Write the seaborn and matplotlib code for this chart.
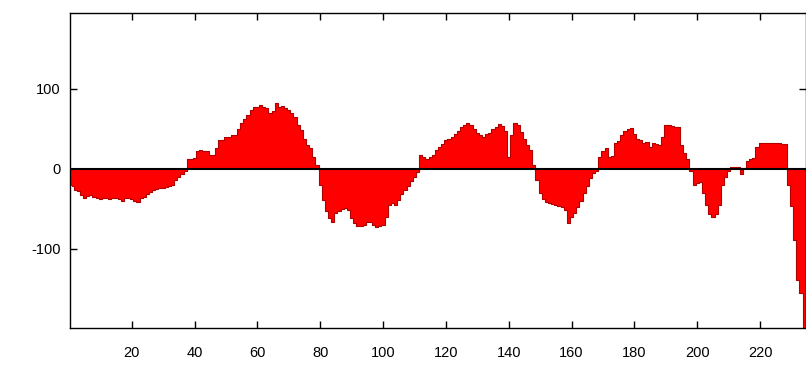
import numpy as np
import pandas as pd
import matplotlib
matplotlib.use("Agg")
import matplotlib.pyplot as plt
import seaborn as sns

positions = list(range(1, 235))
values = [
    -22, -26, -28, -33, -36, -34, -33, -35, -36, -38,
    -37, -36, -38, -37, -36, -38, -40, -37, -36, -38,
    -40, -41, -37, -35, -32, -29, -27, -25, -24, -24,
    -23, -22, -20, -14, -10, -6, -3, 12, 12, 14,
    22, 24, 23, 22, 17, 17, 26, 36, 36, 40,
    40, 42, 42, 50, 57, 63, 68, 74, 78, 78,
    80, 77, 76, 70, 72, 82, 78, 79, 76, 74,
    70, 65, 55, 49, 38, 30, 26, 15, 5, -20,
    -39, -53, -62, -66, -55, -53, -50, -49, -52, -62,
    -68, -72, -71, -70, -66, -66, -70, -73, -72, -70,
    -60, -45, -43, -45, -39, -32, -27, -22, -15, -10,
    -4, 17, 15, 13, 15, 17, 24, 28, 31, 36,
    38, 40, 44, 48, 52, 55, 58, 55, 50, 45,
    42, 40, 44, 45, 50, 53, 56, 54, 47, 15,
    42, 57, 55, 46, 38, 30, 24, 5, -14, -30,
    -38, -42, -43, -44, -45, -47, -48, -52, -68, -60,
    -55, -48, -40, -30, -22, -12, -5, -3, 15, 22,
    26, 15, 16, 32, 35, 42, 48, 50, 51, 44,
    38, 36, 32, 34, 28, 32, 31, 30, 40, 55,
    55, 54, 53, 53, 30, 20, 12, -3, -20, -18,
    -16, -30, -45, -57, -60, -56, -45, -20, -10, -3,
    2, 2, 2, -7, 1, 10, 12, 14, 28, 33,
    33, 32, 32, 32, 33, 33, 31, 31, -20, -47,
    -89, -139, -155, -200,
]
x_ticks = [20, 40, 60, 80, 100, 120, 140, 160, 180, 200, 220]
y_ticks = [-100, 0, 100]

df = pd.DataFrame({"pos": positions, "val": values})

sns.set_style("white")
plt.rcParams["font.family"] = ["Liberation Sans", "DejaVu Sans"]
plt.rcParams["axes.unicode_minus"] = False

fig = plt.figure(figsize=(8.06, 3.66), dpi=100)
ax = fig.add_axes([70.4 / 806, 38 / 366, 1 - 70.4 / 806, 315 / 366])

sns.barplot(data=df, x="pos", y="val", native_scale=True, width=1.0,
            color="#ff0000", saturation=1, errorbar=None, linewidth=0,
            edgecolor="none", ax=ax)
sns.lineplot(data=df, x="pos", y="val", drawstyle="steps-mid",
             color="#b00000", linewidth=0.8, ax=ax)

ax.axhline(0, color="black", linewidth=1.5, zorder=5)

ax.set_xlim(0.5, 234.6)
ax.set_ylim(-199, 195)
ax.set_xticks(x_ticks)
ax.set_yticks(y_ticks)
ax.set_xlabel("")
ax.set_ylabel("")
ax.tick_params(direction="in", length=5, width=1, color="black",
               top=True, right=True, bottom=True, left=True,
               labelsize=10.5, labelcolor="black")
ax.tick_params(axis="x", pad=13)
ax.tick_params(axis="y", pad=7)
for side, sp in ax.spines.items():
    sp.set_color("black")
    sp.set_linewidth(1.0)
    sp.set_visible(True)

fig.savefig("out.png", dpi=100)
